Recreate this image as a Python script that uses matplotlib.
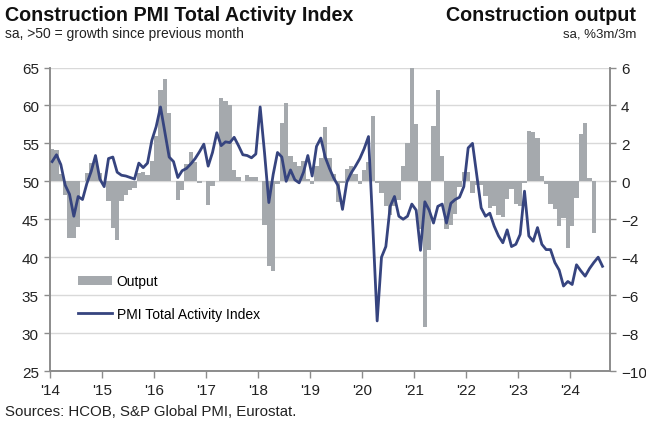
import matplotlib
matplotlib.use("Agg")
import matplotlib.pyplot as plt
from matplotlib.patches import Patch
from matplotlib.lines import Line2D
import numpy as np

plt.rcParams['font.family'] = ['Liberation Sans', 'DejaVu Sans']

# Monthly data, Jan 2014 onwards
pmi = [52.6, 53.5, 52.2, 49.5, 48.3, 45.4, 48.0, 47.6, 49.7, 51.3, 53.4, 50.3,
       49.3, 53.0, 53.2, 51.2, 50.8, 50.7, 50.5, 50.3, 52.4, 51.8, 52.4, 55.4,
       57.2, 59.8, 56.5, 53.2, 52.6, 50.5, 51.4, 51.7, 52.3, 53.0, 53.9, 54.9,
       52.0, 53.8, 56.4, 54.7, 55.2, 55.1, 55.8, 54.7, 53.5, 53.4, 53.1, 53.6,
       59.8, 53.8, 47.2, 50.9, 53.8, 53.2, 50.0, 51.5, 50.2, 49.8, 51.2, 53.4,
       50.7, 54.6, 55.7, 53.2, 51.7, 50.4, 49.4, 46.3, 49.9, 51.1, 52.0, 53.0,
       54.3, 55.9, 44.0, 31.6, 40.0, 41.4, 46.7, 48.0, 45.4, 45.0, 45.4, 47.0,
       46.2, 40.9, 47.3, 46.2, 44.5, 46.7, 47.0, 44.5, 47.1, 47.6, 47.9, 49.3,
       54.4, 55.0, 50.7, 46.5, 45.4, 45.8, 44.1, 42.8, 41.9, 43.6, 41.4, 41.7,
       43.0, 48.7, 42.8, 42.1, 43.9, 41.7, 41.0, 41.0, 39.3, 38.3, 36.2, 36.8,
       36.4, 39.0, 38.2, 37.5, 38.5, 39.3, 40.0, 38.8]

output = [1.7, 1.65, 0.4, -0.7, -3.0, -3.0, -2.4, 0.0, 0.45, 0.95, 1.05, 0.45,
          0.0, -1.05, -2.45, -3.07, -1.05, -0.7, -0.45, -0.35, 0.45, 0.5, 0.35, 1.05,
          2.4, 4.8, 5.4, 3.6, 0.0, -1.0, -0.45, 0.9, 1.55, 1.0, -0.1, 0.0,
          -1.25, -0.25, 0.0, 4.4, 4.25, 4.0, 0.6, 0.25, 0.0, 0.35, 0.25, 0.25,
          0.0, -2.3, -4.45, -4.75, -0.15, 3.06, 4.12, 1.35, 1.0, 0.8, 1.08, 0.1,
          -0.15, 0.8, 1.25, 2.85, 1.25, 0.4, -1.1, -0.1, 0.65, 0.8, 0.4, -0.15,
          0.6, 1.0, 3.45, -0.1, -0.6, -1.3, -1.8, -1.3, -1.0, 0.8, 2.0, 6.0,
          3.0, -2.5, -7.7, -3.6, 2.9, 4.8, 1.35, -2.5, -2.3, -1.7, -0.3, 0.5,
          0.5, -0.6, -0.2, -0.2, -0.8, -1.4, -1.3, -1.75, -1.9, -0.95, -0.4, -1.2,
          -1.3, -0.1, 2.66, 2.58, 2.26, 0.28, -0.16, -1.2, -1.48, -2.36, -1.92, -3.5,
          -2.36, -0.86, 2.49, 3.07, 0.2, -2.7]

year_labels = ["'14", "'15", "'16", "'17", "'18", "'19", "'20", "'21", "'22", "'23", "'24"]
left_ticks = [25, 30, 35, 40, 45, 50, 55, 60, 65]
right_ticks = [-10, -8, -6, -4, -2, 0, 2, 4, 6]

BAR = '#a5a9ad'
LINE = '#36447f'
GRID = '#d9d9d9'
SPINE = '#8c8c8c'

fig = plt.figure(figsize=(6.46, 4.31), dpi=100)
ax = fig.add_axes([50/646, 1-372/431, 560/646, (372-68.5)/431])
ax2 = ax.twinx()

# bars on right axis (drawn underneath)
xb = np.arange(len(output)) + 0.5
ax2.bar(xb, output, width=1.0, color=BAR, linewidth=0, zorder=2)
ax2.set_ylim(-10, 6)
ax2.set_yticks(right_ticks)
ax2.grid(axis='y', color=GRID, linewidth=1.0, zorder=0)
ax2.set_axisbelow(True)

# PMI line on left axis, on top
xl = np.arange(len(pmi)) + 0.5
ax.plot(xl, pmi, color=LINE, linewidth=2.0, solid_joinstyle='round', zorder=5)
ax.set_ylim(25, 65)
ax.set_yticks(left_ticks)
ax.set_zorder(ax2.get_zorder() + 1)
ax.patch.set_visible(False)

nmax = (610 - 50) / (52 / 12)
ax.set_xlim(0, nmax)
ax.set_xticks([12 * i for i in range(len(year_labels))])
ax.set_xticklabels(year_labels)

for a in (ax, ax2):
    a.spines['top'].set_visible(False)
    for s in ('left', 'right', 'bottom'):
        a.spines[s].set_color(SPINE)
        a.spines[s].set_linewidth(1.2)
    a.tick_params(colors='#222222', labelsize=11, length=4, width=1, color=SPINE)

ax.tick_params(axis='x', length=5, pad=4)
ax.tick_params(axis='y', pad=4)
ax2.tick_params(axis='y', pad=4)

handles = [Patch(facecolor=BAR, edgecolor='none', label='Output'),
           Line2D([0], [0], color=LINE, linewidth=2.0, label='PMI Total Activity Index')]
leg = ax.legend(handles=handles, loc='upper left', bbox_to_anchor=(0.027, 0.36),
                frameon=False, fontsize=10, labelspacing=1.35, handlelength=2.5,
                handleheight=0.55, handletextpad=0.3)

fig.text(0.008, 0.965, 'Construction PMI Total Activity Index', fontsize=14.2, fontweight='bold',
         va='center', ha='left', color='#111111')
fig.text(0.008, 0.921, 'sa, >50 = growth since previous month', fontsize=10,
         va='center', ha='left', color='#222222')
fig.text(0.985, 0.965, 'Construction output', fontsize=14.2, fontweight='bold',
         va='center', ha='right', color='#111111')
fig.text(0.985, 0.921, 'sa, %3m/3m', fontsize=9.5, va='center', ha='right', color='#222222')
fig.text(0.008, 0.044, 'Sources: HCOB, S&P Global PMI, Eurostat.', fontsize=10.8,
         va='center', ha='left', color='#222222')

fig.savefig('out.png', dpi=100)
